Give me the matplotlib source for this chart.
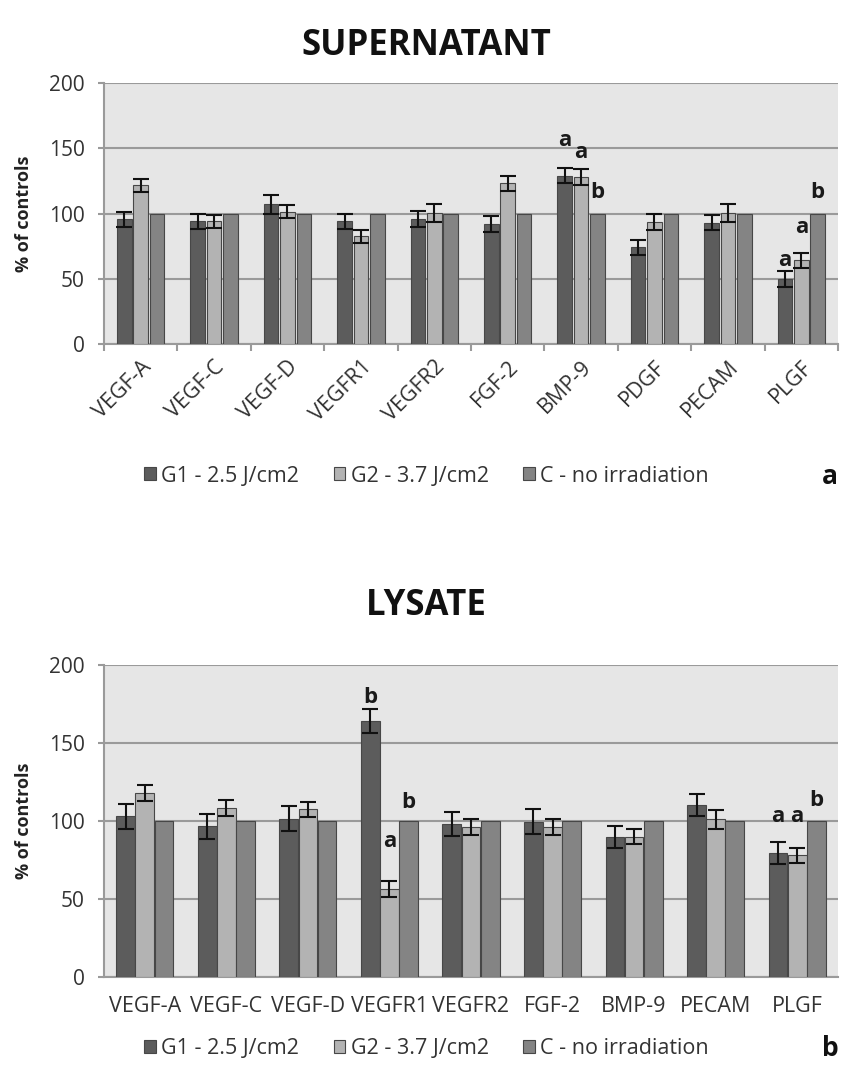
import matplotlib
matplotlib.use("Agg")
import matplotlib.pyplot as plt
import numpy as np

plt.rcParams['font.family'] = ['Open Sans', 'DejaVu Sans']

series_names = ["G1 - 2.5 J/cm2", "G2 - 3.7 J/cm2", "C - no irradiation"]
colors = ["#5c5c5c", "#b3b3b3", "#848484"]
edge = "#474747"

# Supernatant
sup_cats = ["VEGF-A", "VEGF-C", "VEGF-D", "VEGFR1", "VEGFR2", "FGF-2", "BMP-9", "PDGF", "PECAM", "PLGF"]
sup_g1 = [95.5, 94, 107, 94, 96, 92, 129, 74, 93, 50]
sup_g2 = [121.5, 94, 101.5, 82.5, 100.5, 123, 128, 93.5, 100.5, 64]
sup_c = [100, 100, 100, 100, 100, 100, 100, 100, 100, 100]
sup_g1_err = [6, 6, 7, 6, 6, 6, 6, 6, 6, 6]
sup_g2_err = [5, 5, 5, 5, 7, 6, 6, 6, 7, 6]

# Lysate
lys_cats = ["VEGF-A", "VEGF-C", "VEGF-D", "VEGFR1", "VEGFR2", "FGF-2", "BMP-9", "PECAM", "PLGF"]
lys_g1 = [103, 96.5, 101.5, 164, 98, 99.5, 90, 110, 79.5]
lys_g2 = [118, 108.5, 107.5, 56.5, 96, 96, 90, 101, 78]
lys_c = [100, 100, 100, 100, 100, 100, 100, 100, 100]
lys_g1_err = [8, 8, 8, 7.5, 7.5, 8, 7, 7, 7]
lys_g2_err = [5, 5, 5, 5, 5, 5, 5, 6, 5]

# significance letters: (category index, series index, letter, height in % units)
sup_letters = [(6, 0, "a", 156), (6, 1, "a", 147), (6, 2, "b", 116),
               (9, 0, "a", 64), (9, 1, "a", 89), (9, 2, "b", 116)]
lys_letters = [(3, 0, "b", 179), (3, 1, "a", 87), (3, 2, "b", 112),
               (8, 0, "a", 103), (8, 1, "a", 103), (8, 2, "b", 113)]

W, H = 853, 1070
fig = plt.figure(figsize=(W / 100, H / 100), dpi=100)


def panel(rect, cats, g1, g2, c, e1, e2, letters, width, step, rotate, title, title_y, legend_y, panel_letter):
    ax = fig.add_axes(rect)
    x = np.arange(len(cats))
    vals = [g1, g2, c]
    errs = [e1, e2, None]
    for k in range(3):
        xs = x + (k - 1) * step
        ax.bar(xs, vals[k], width=width, color=colors[k], edgecolor=edge, linewidth=0.8,
               label=series_names[k], zorder=3)
        if errs[k] is not None:
            ax.errorbar(xs, vals[k], yerr=errs[k], fmt="none", ecolor="#111111", elinewidth=1.5,
                        capsize=5.5, capthick=1.5, zorder=4)
    for (i, k, s, yv) in letters:
        ax.text(i + (k - 1) * step, yv, s, ha="center", va="center", fontsize=16, fontweight="bold",
                color="#1a1a1a", zorder=5)
    ax.set_xlim(-0.5, len(cats) - 0.5)
    ax.set_ylim(0, 200)
    ax.set_yticks([0, 50, 100, 150, 200])
    ax.set_facecolor("#e6e6e6")
    ax.yaxis.grid(True, color="#9a9a9a", linewidth=1.5, zorder=0)
    ax.set_axisbelow(True)
    for s in ["top", "right"]:
        ax.spines[s].set_visible(False)
    for s in ["left", "bottom"]:
        ax.spines[s].set_color("#9a9a9a")
        ax.spines[s].set_linewidth(1.5)
    ax.tick_params(axis="y", labelsize=15, colors="#9a9a9a", labelcolor="#333333", length=4, width=1.5,
                   pad=10)
    if rotate:
        ax.set_xticks(x)
        ax.set_xticklabels(cats, rotation=45, ha="right", rotation_mode="anchor", fontsize=15.5,
                           color="#333333")
        ax.set_xticks(np.arange(len(cats) + 1) - 0.5, minor=True)
        ax.tick_params(axis="x", which="major", length=0, pad=9)
        ax.tick_params(axis="x", which="minor", length=5, width=1.5, color="#9a9a9a")
    else:
        ax.set_xticks(x)
        ax.set_xticklabels(cats, fontsize=15.5, color="#333333")
        ax.tick_params(axis="x", length=0, pad=14)
    ax.set_ylabel("% of controls", fontsize=13, fontweight="bold", color="#222222")
    ax.yaxis.set_label_coords(-0.097, 0.5)
    fig.text(0.5, title_y, title, ha="center", va="center", fontsize=25, fontweight="bold",
             color="#111111")
    handles, labels = ax.get_legend_handles_labels()
    fig.legend(handles, labels, loc="center", bbox_to_anchor=(0.5, legend_y), ncol=3, frameon=False,
               fontsize=15.5, handlelength=0.55, handleheight=0.55, handletextpad=0.25, columnspacing=1.6,
               labelcolor="#333333")
    fig.text(830 / W, legend_y, panel_letter, ha="center", va="center", fontsize=19, fontweight="bold",
             color="#111111")
    return ax


panel([104 / W, 1 - 344 / H, 734 / W, 261 / H], sup_cats, sup_g1, sup_g2, sup_c, sup_g1_err, sup_g2_err,
      sup_letters, 0.2, 0.223, True, "SUPERNATANT", 1 - 46 / H, 1 - 476 / H, "a")
panel([104 / W, 1 - 977 / H, 734 / W, 312 / H], lys_cats, lys_g1, lys_g2, lys_c, lys_g1_err, lys_g2_err,
      lys_letters, 0.23, 0.235, False, "LYSATE", 1 - 606 / H, 1 - 1049 / H, "b")

fig.savefig("out.png", dpi=100)
